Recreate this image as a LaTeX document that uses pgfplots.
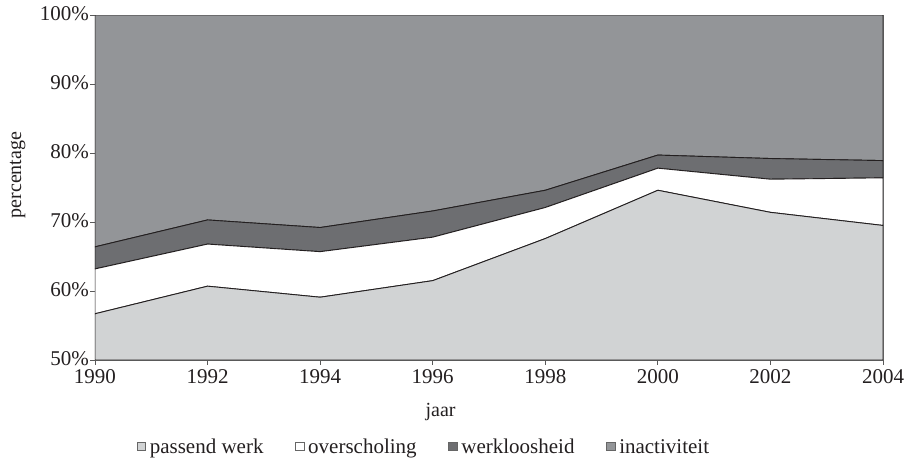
\documentclass[border=0pt]{standalone}
\usepackage{pgfplots}
\pgfplotsset{compat=1.18}
\usepackage{fontspec}
\setmainfont{Liberation Serif}
\usetikzlibrary{calc}
\definecolor{cpass}{HTML}{D1D3D4}
\definecolor{cover}{HTML}{FFFFFF}
\definecolor{cwerk}{HTML}{6D6E71}
\definecolor{cinact}{HTML}{939598}
\definecolor{ctxt}{HTML}{231F20}
\begin{document}
\begin{tikzpicture}
\begin{axis}[name=ax, scale only axis, width=788pt, height=345pt,
  xmin=1990, xmax=2004, ymin=50, ymax=100,
  stack plots=y,
  xtick={1990,1992,...,2004}, ytick={50,60,...,100},
  /pgf/number format/1000 sep={},
  /pgf/number format/assume math mode=true,
  yticklabel={\pgfmathprintnumber{\tick}\%},
  tick align=outside, tick pos=left, major tick length=5pt,
  axis line style={draw=black!65, line width=0.8pt},
  tick style={draw=black!65, line width=0.8pt},
  tick label style={font=\fontsize{21}{25}\selectfont, text=ctxt},
  x tick label style={inner sep=2pt, yshift=-2pt},
  y tick label style={inner sep=1pt, yshift=1pt},
  xlabel={jaar}, ylabel={percentage},
  label style={font=\fontsize{20}{24}\selectfont, text=ctxt},
  xlabel style={at={(axis description cs:0.4385,-0.151)}, anchor=center},
  ylabel style={at={(axis description cs:-0.098,0.536)}, anchor=center, rotate=0},
  legend style={at={(axis description cs:0.417,-0.252)}, anchor=center,
    legend columns=4, draw=none, fill=none, font=\fontsize{21}{25}\selectfont, text=ctxt,
    /tikz/every even column/.append style={column sep=30pt},
    nodes={inner sep=1.5pt}},
  legend image code/.code={\draw[#1, draw=black!60, line width=0.5pt] (0pt,-3.5pt) rectangle (8.5pt,5pt); \path (11pt,0pt);},
  every axis plot/.append style={draw=ctxt, line width=0.9pt},
]
\addplot[fill=cpass] coordinates {(1990,56.7) (1992,60.7) (1994,59.1) (1996,61.5) (1998,67.6) (2000,74.6) (2002,71.4) (2004,69.5)} \closedcycle;
\addlegendentry{passend werk}
\addplot[fill=cover] coordinates {(1990,6.5) (1992,6.1) (1994,6.6) (1996,6.3) (1998,4.5) (2000,3.2) (2002,4.8) (2004,6.9)} \closedcycle;
\addlegendentry{overscholing}
\addplot[fill=cwerk] coordinates {(1990,3.2) (1992,3.5) (1994,3.5) (1996,3.8) (1998,2.5) (2000,1.9) (2002,3.0) (2004,2.5)} \closedcycle;
\addlegendentry{werkloosheid}
\addplot[fill=cinact] coordinates {(1990,33.6) (1992,29.7) (1994,30.8) (1996,28.4) (1998,25.4) (2000,20.3) (2002,20.8) (2004,21.1)} \closedcycle;
\addlegendentry{inactiviteit}
\end{axis}
\pgfresetboundingbox
\path ($(ax.south west)+(-95pt,-100pt)$) rectangle ($(ax.north east)+(22pt,15pt)$);
\end{tikzpicture}
\end{document}
